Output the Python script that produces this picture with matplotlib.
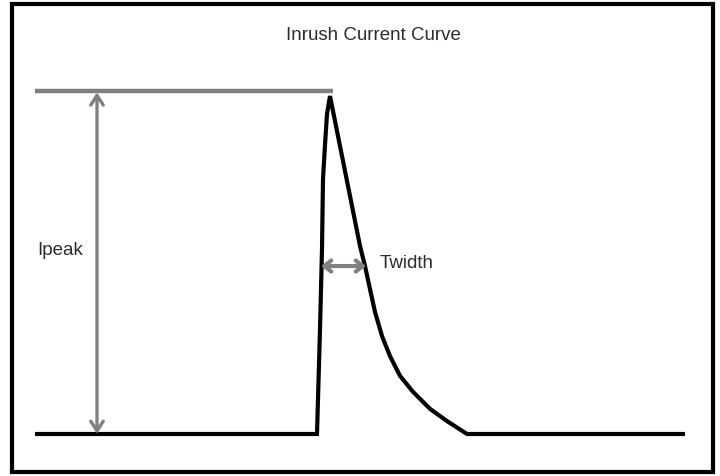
"""
Inrush current curve diagram
"""
import matplotlib
matplotlib.use("Agg")
import matplotlib.pyplot as plt
from matplotlib.patches import Rectangle

# curve samples: time (arbitrary units) and current (fraction of peak)
time = [35, 317, 318, 320, 322, 323, 325, 327, 330, 360, 365, 370, 375,
        382, 390, 400, 413, 430, 447, 467, 685]
current = [0.0, 0.0, 0.103, 0.309, 0.544, 0.75, 0.85, 0.941, 0.994,
           0.553, 0.494, 0.426, 0.359, 0.288, 0.229, 0.171, 0.124, 0.074, 0.038,
           0.0, 0.0]

peak_level = 1.009
peak_line_t = [35, 333]
ipeak_t = 97
twidth_t = [321, 366]
twidth_level = 0.494

title = "Inrush Current Curve"
label_peak = "Ipeak"
label_width = "Twidth"

GRAY = "#808080"
TEXT = "#2b2b33"
FONT = ["Liberation Sans Narrow", "Liberation Sans", "DejaVu Sans"]

fig = plt.figure(figsize=(7.2, 4.77), dpi=100)
ax = fig.add_axes([0, 0, 1, 1])
ax.set_xlim(0, 720)
ax.set_ylim(-42 / 340, 435 / 340)
ax.axis("off")

# outer frame
fig.patches.append(Rectangle((12 / 720, 4.5 / 477), 700.5 / 720, 468 / 477,
                             transform=fig.transFigure, fill=False,
                             edgecolor="black", linewidth=3))

# peak reference line
ax.plot(peak_line_t, [peak_level, peak_level], color=GRAY, lw=3.2,
        solid_capstyle="butt")

# main curve
ax.plot(time, current, color="black", lw=3, solid_joinstyle="miter",
        solid_capstyle="butt")

# Ipeak arrow
ax.annotate("", xy=(ipeak_t, peak_level - 0.004), xytext=(ipeak_t, 0.0),
            arrowprops=dict(arrowstyle="<->,head_length=0.7,head_width=0.45",
                            color=GRAY, lw=2.4, shrinkA=0, shrinkB=0))

# Twidth arrow
ax.annotate("", xy=(twidth_t[0], twidth_level), xytext=(twidth_t[1], twidth_level),
            arrowprops=dict(arrowstyle="<->,head_length=0.5,head_width=0.4",
                            color=GRAY, lw=3, shrinkA=0, shrinkB=0))

ax.text(373, 1.174, title, ha="center", va="center", fontsize=13.5,
        color=TEXT, family=FONT)
ax.text(37, (435 - 251) / 340, label_peak, ha="left", va="center", fontsize=13.5,
        color=TEXT, family=FONT)
ax.text(380, (435 - 264) / 340, label_width, ha="left", va="center", fontsize=13.5,
        color=TEXT, family=FONT)

plt.savefig("out.png", dpi=100)
plt.close()
